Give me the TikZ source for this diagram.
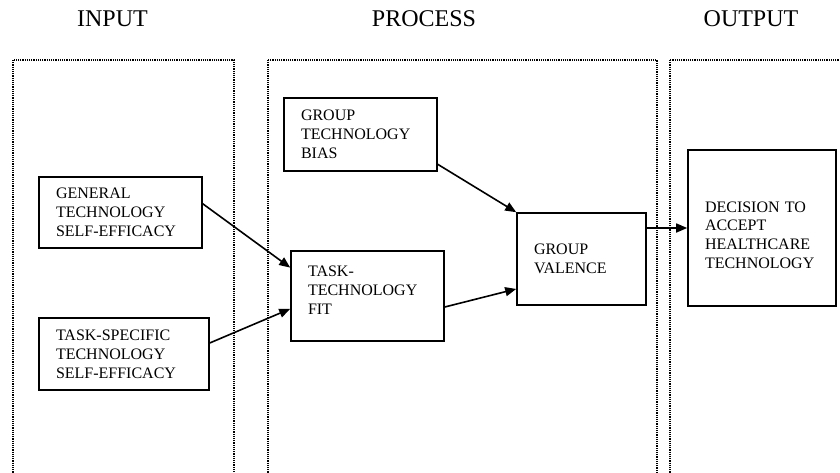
\documentclass[tikz,border=0pt]{standalone}
\usepackage{fontspec}
\setmainfont{Liberation Serif}
\usepackage{tikz}
\usetikzlibrary{arrows.meta,calc}

\begin{document}
\begin{tikzpicture}[
  x=1pt,
  y=-1pt,
  panel/.style={densely dotted,line width=1.2pt},
  heading/.style={font=\fontsize{24}{28}\selectfont,anchor=base},
  factor/.style={draw,line width=1.6pt,inner xsep=17pt,inner ysep=0pt,align=left,font=\fontsize{16}{18.8}\selectfont},
  link/.style={line width=1.6pt,-{Triangle[length=11pt,width=9pt]}}
]
  \clip (0,0) rectangle (840,472);

  % Panels and headings
  \draw[panel] (13,60) rectangle (234,490);
  \draw[panel] (268,60) rectangle (657,490);
  \draw[panel] (670,60) rectangle (860,490);
  \node[heading] (hin) at (112.5,26) {INPUT};
  \node[heading] (hproc) at (424,26) {PROCESS};
  \node[heading] (hout) at (751,26) {OUTPUT};

  % Input factors
  \node[factor,text width=129pt,minimum height=71pt] (gse) at (120.5,212.5) {GENERAL\\TECHNOLOGY\\SELF-EFFICACY};
  \node[factor,text width=136pt,minimum height=72pt] (tse) at (124,354) {TASK-SPECIFIC\\TECHNOLOGY\\SELF-EFFICACY};

  % Process factors
  \node[factor,text width=119pt,minimum height=73pt] (bias) at (360.5,134.5) {GROUP\\TECHNOLOGY\\BIAS};
  \node[factor,text width=119pt,minimum height=90pt] (ttf) at (367.5,296) {TASK-\\TECHNOLOGY\\FIT\\[-7pt]\mbox{}};
  \node[factor,text width=95pt,minimum height=92pt] (val) at (581.5,259) {GROUP\\VALENCE};

  % Output
  \node[factor,text width=114pt,minimum height=156pt] (dec) at (762,228) {\\[6pt]DECISION TO\\ACCEPT\\HEALTHCARE\\TECHNOLOGY};

  % Links
  \draw[link] ($(gse.north east)!0.38!(gse.south east)$) -- ($(ttf.north west)!0.19!(ttf.south west)$);
  \draw[link] ($(tse.north east)!0.35!(tse.south east)$) -- ($(ttf.north west)!0.64!(ttf.south west)$);
  \draw[link] ($(bias.north east)!0.9!(bias.south east)$) -- (val.north west);
  \draw[link] ($(ttf.north east)!0.62!(ttf.south east)$) -- ($(val.north west)!0.82!(val.south west)$);
  \draw[link] (val.east |- dec.west) -- (dec.west);
\end{tikzpicture}
\end{document}
